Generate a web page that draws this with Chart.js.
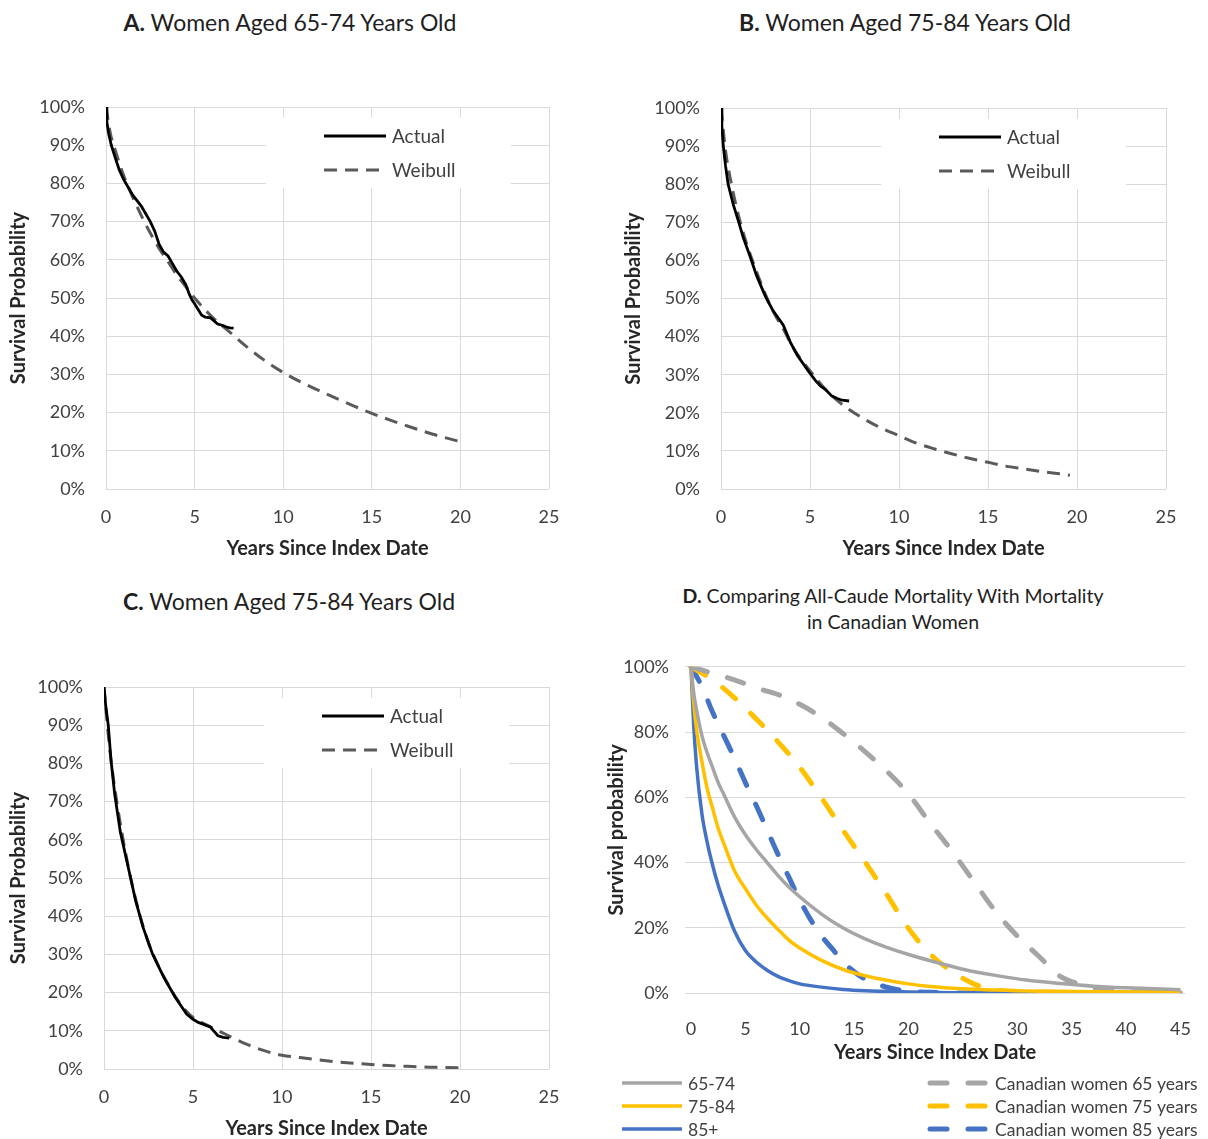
<!DOCTYPE html>
<html>
<head>
<meta charset="utf-8">
<script src="https://cdn.jsdelivr.net/npm/chart.js@4.4.0/dist/chart.umd.min.js"></script>
<style>
  html, body { margin: 0; padding: 0; background: #fff; overflow: hidden; }
  body { position: relative; width: 1208px; height: 1139px; font-family: Lato, sans-serif; }
  canvas { position: absolute; }
  .title { position: absolute; color: #1f1f1f; font-size: 23px; line-height: 26px; text-align: center; white-space: nowrap; transform: translateX(-50%); }
  .title.small { font-size: 19.5px; }
</style>
</head>
<body>
<div class="title" style="left:290px; top:9px"><b>A.</b> Women Aged 65-74 Years Old</div>
<div class="title" style="left:905px; top:9px"><b>B.</b> Women Aged 75-84 Years Old</div>
<div class="title" style="left:289px; top:588px"><b>C.</b> Women Aged 75-84 Years Old</div>
<div class="title small" style="left:893px; top:583px"><b>D.</b> Comparing All-Caude Mortality With Mortality<br>in Canadian Women</div>

<canvas id="chartA" width="600" height="520" style="left:0; top:60px"></canvas>
<canvas id="chartB" width="593" height="520" style="left:615px; top:60px"></canvas>
<canvas id="chartC" width="600" height="520" style="left:0; top:640px"></canvas>
<canvas id="chartD" width="608" height="499" style="left:600px; top:640px"></canvas>

<script>
// Panel A: women 65-74 (years since index date, survival %)
const aActualYears = [0, 0.05, 0.15, 0.3, 0.5, 0.75, 1, 1.25, 1.5, 1.75, 2, 2.25, 2.5, 2.75, 3, 3.25, 3.5, 3.75, 4, 4.25, 4.5, 4.7, 4.85, 5, 5.2, 5.4, 5.6, 5.9, 6.1, 6.3, 6.6, 6.8, 7, 7.2];
const aActual = [100, 96, 93, 90, 87, 83.5, 81, 79, 77, 75.5, 74, 72, 70, 67.5, 64, 62, 61, 59, 57, 55.5, 53.5, 51, 49.5, 48.5, 47, 45.5, 45, 44.8, 44, 43.2, 42.8, 42.4, 42.2, 42.1];
const aWeibullYears = [0, 0.25, 0.5, 1, 1.5, 2, 2.5, 3, 3.5, 4, 4.5, 5, 6, 7, 8, 9, 10, 11, 12, 13, 14, 15, 16, 17, 18, 19, 20];
const aWeibull = [100, 93, 89, 82, 76.5, 71.5, 67, 63, 59.5, 56, 53, 50, 45, 41, 37, 33.5, 30.5, 28, 25.8, 23.7, 21.7, 19.8, 18.1, 16.5, 15, 13.6, 12.4];

// Panel B: women 75-84
const bActualYears = [0, 0.05, 0.13, 0.25, 0.4, 0.7, 1, 1.25, 1.6, 2, 2.5, 2.9, 3.2, 3.5, 3.9, 4.3, 4.6, 4.9, 5.3, 5.6, 5.9, 6.2, 6.5, 6.8, 7.2];
const bActual = [100, 95, 90, 85, 80, 74.5, 70, 66, 61.5, 56, 50.5, 47, 45, 43, 38.5, 35, 33, 31, 28.5, 27, 26, 24.5, 23.8, 23.3, 23.1];
const bWeibullYears = [0, 0.25, 0.5, 1, 1.5, 2, 2.5, 3, 3.5, 4, 4.5, 5, 6, 7, 8, 9, 10, 11, 12, 13, 14, 15, 16, 17, 18, 19, 19.6];
const bWeibull = [100, 89, 82, 71.5, 63.5, 57, 51, 46, 42, 37.5, 34, 31, 25.5, 21.5, 18.5, 16, 14, 12, 10.5, 9.2, 8, 7, 6, 5.3, 4.6, 4, 3.6];

// Panel C
const cActualYears = [0, 0.1, 0.24, 0.39, 0.6, 0.92, 1.35, 1.78, 2.2, 2.72, 3.36, 4, 4.64, 5, 5.3, 5.97, 6.2, 6.4, 6.7, 7.04];
const cActual = [100, 95, 90, 81, 72, 62, 53, 44, 37, 30.2, 24, 18.8, 14.4, 13, 12.2, 11, 9.8, 8.7, 8.3, 8.1];
const cWeibullYears = [0, 0.25, 0.5, 1, 1.5, 2, 2.5, 3, 3.5, 4, 4.5, 5, 6, 7, 8, 9, 10, 11, 12, 13, 14, 15, 16, 17, 18, 19, 20];
const cWeibull = [100, 87, 77, 62, 50, 40.5, 33, 27.5, 23, 19, 15.8, 13.5, 11, 8.7, 6.5, 4.8, 3.6, 3, 2.4, 1.9, 1.5, 1.2, 0.9, 0.7, 0.5, 0.4, 0.3];

// Panel D: fitted curves by age group vs. Canadian women life tables
const dYears = [0, 0.25, 0.5, 1, 1.5, 2, 2.5, 3, 4, 5, 6, 7, 8, 9, 10, 12, 14, 16, 18, 20, 22, 25, 28, 31, 34, 37, 40, 45];
const d6574 = [100, 92, 87, 79, 73.5, 69, 64.5, 61, 54, 48.5, 44, 40, 36, 32.5, 29.5, 24.2, 19.9, 16.6, 14, 11.8, 9.9, 7.3, 5.4, 3.9, 2.9, 2.1, 1.6, 1];
const d7584 = [100, 89, 81, 71, 62.5, 56.5, 50.5, 46, 37.5, 32, 27, 23, 19.5, 16.2, 13.8, 10, 7.2, 5.3, 3.9, 2.8, 2, 1.3, 0.9, 0.6, 0.5, 0.4, 0.3, 0.3];
const d85 = [100, 82, 70, 55, 46, 39, 33, 28, 19, 13, 9.5, 7, 5.1, 3.8, 2.8, 1.8, 1.1, 0.7, 0.5, 0.3, 0.2, 0.1, 0.1, 0, 0, 0, 0, 0];

const can65Years = [0, 2, 4, 6, 8, 10, 12, 14, 16, 18, 20, 22, 24, 26, 28, 30, 32, 34, 36, 38, 40, 42, 45];
const can65 = [100, 98, 96, 93.5, 91.5, 88.5, 84.5, 79.5, 74, 68, 61, 52, 43.5, 34.2, 25, 17.5, 11.2, 5, 2.5, 0.9, 0.5, 0.3, 0.1];
const can75Years = [0, 2, 4, 6, 8, 10, 12, 14, 16, 18, 20, 22, 24, 26, 28, 30, 32, 34, 36, 38, 40, 42, 45];
const can75 = [100, 96, 90.5, 84, 77, 69.2, 59.8, 49.8, 40.2, 30.2, 19.8, 11.9, 6.6, 2.8, 0.9, 0.5, 0.3, 0.2, 0.1, 0.1, 0.1, 0, 0];
const can85Years = [0, 1, 2, 3, 4, 5, 6, 7, 8, 9, 10, 11, 12, 13, 14, 15, 16, 17, 18, 19, 20, 22, 25, 30, 35, 40, 45];
const can85 = [100, 94, 86, 79, 72, 64.5, 57.5, 50, 42.5, 35.5, 28.5, 22.5, 17.5, 13.5, 9.5, 6.5, 4.3, 2.8, 1.8, 1, 0.5, 0.2, 0, 0, 0, 0, 0];

const FONT = 'Lato';
const TICK_COLOR = '#404040';
const TITLE_COLOR = '#262626';
const GRID_COLOR = '#d9d9d9';

function points(xs, ys) {
    return xs.map((x, i) => ({ x: x, y: ys[i] }));
}

// Legend drawn in a white box inside the plot area (panels A-C)
const boxLegend = {
    id: 'boxLegend',
    beforeDatasetsDraw(chart, args, opts) {
        if (!opts.width) return;
        const area = chart.chartArea;
        chart.ctx.save();
        chart.ctx.fillStyle = '#fff';
        chart.ctx.fillRect(area.left + opts.left, area.top + opts.top, opts.width, opts.height);
        chart.ctx.restore();
    },
    afterDatasetsDraw(chart, args, opts) {
        if (!opts.width) return;
        const ctx = chart.ctx, area = chart.chartArea;
        const x0 = area.left + opts.left, y0 = area.top + opts.top;
        ctx.save();
        chart.data.datasets.forEach((ds, i) => {
            const y = y0 + opts.rowTop + i * opts.rowGap;
            ctx.beginPath();
            ctx.strokeStyle = ds.borderColor;
            ctx.lineWidth = ds.borderWidth;
            ctx.setLineDash(ds.borderDash || []);
            ctx.moveTo(x0 + opts.lineStart, y);
            ctx.lineTo(x0 + opts.lineStart + opts.lineLength, y);
            ctx.stroke();
            ctx.setLineDash([]);
            ctx.fillStyle = TICK_COLOR;
            ctx.font = '19px ' + FONT;
            ctx.textBaseline = 'middle';
            ctx.fillText(ds.label, x0 + opts.textStart, y + 1);
        });
        ctx.restore();
    }
};

// Two-column legend under the comparison chart (panel D)
const columnLegend = {
    id: 'columnLegend',
    afterDraw(chart, args, opts) {
        if (!opts.rows) return;
        const ctx = chart.ctx;
        ctx.save();
        chart.data.datasets.forEach((ds, i) => {
            const col = opts.cols[Math.floor(i / opts.rows.length)];
            const y = opts.rows[i % opts.rows.length];
            ctx.beginPath();
            ctx.strokeStyle = ds.borderColor;
            ctx.lineWidth = ds.borderWidth;
            ctx.lineCap = ds.borderCapStyle || 'butt';
            ctx.setLineDash(ds.borderDash || []);
            ctx.moveTo(col.line[0], y);
            ctx.lineTo(col.line[1], y);
            ctx.stroke();
            ctx.setLineDash([]);
            ctx.fillStyle = TICK_COLOR;
            ctx.font = '17.5px ' + FONT;
            ctx.textBaseline = 'middle';
            ctx.fillText(ds.label, col.text, y + 1);
        });
        ctx.restore();
    }
};

Chart.register(boxLegend, columnLegend);

function survivalChart(id, actualYears, actual, weibullYears, weibull, yWidth, padTop, padRight) {
    const ctx = document.getElementById(id).getContext('2d');
    return new Chart(ctx, {
        type: 'line',
        data: {
            datasets: [
                {
                    label: 'Actual',
                    data: points(actualYears, actual),
                    borderColor: '#000000',
                    borderWidth: 2.8,
                    pointRadius: 0,
                    tension: 0
                },
                {
                    label: 'Weibull',
                    data: points(weibullYears, weibull),
                    borderColor: '#5a5a5a',
                    borderWidth: 3,
                    borderDash: [13, 8],
                    pointRadius: 0,
                    cubicInterpolationMode: 'monotone'
                }
            ]
        },
        options: {
            responsive: false,
            animation: false,
            devicePixelRatio: 1,
            layout: { padding: { top: padTop, right: padRight, bottom: 0, left: 0 } },
            plugins: {
                legend: { display: false },
                tooltip: { enabled: false },
                boxLegend: { left: 160, top: 11, width: 245, height: 70, rowTop: 18, rowGap: 34, lineStart: 58, lineLength: 62, textStart: 126 }
            },
            scales: {
                x: {
                    type: 'linear',
                    min: 0,
                    max: 25,
                    ticks: { stepSize: 5, padding: 17, color: TICK_COLOR, font: { family: FONT, size: 18 } },
                    grid: { color: GRID_COLOR, drawTicks: false },
                    border: { display: false },
                    title: { display: true, text: 'Years Since Index Date', color: TITLE_COLOR, font: { family: FONT, size: 20, weight: 'bold' }, padding: { top: 0, bottom: 19 } },
                    afterFit: s => { s.height = 91; }
                },
                y: {
                    min: 0,
                    max: 100,
                    ticks: { stepSize: 10, padding: 21, color: TICK_COLOR, font: { family: FONT, size: 18 }, callback: v => v + '%' },
                    grid: { color: GRID_COLOR, drawTicks: false },
                    border: { display: false },
                    title: { display: true, text: 'Survival Probability', color: TITLE_COLOR, font: { family: FONT, size: 20, weight: 'bold' }, padding: { top: 7, bottom: 0 } },
                    afterFit: s => { s.width = yWidth; }
                }
            }
        }
    });
}

survivalChart('chartA', aActualYears, aActual, aWeibullYears, aWeibull, 106, 47, 51);
survivalChart('chartB', bActualYears, bActual, bWeibullYears, bWeibull, 106, 48, 42);
survivalChart('chartC', cActualYears, cActual, cWeibullYears, cWeibull, 104, 47, 51);

// Panel D
const solid = (label, xs, ys, color) => ({
    label: label,
    data: points(xs, ys),
    borderColor: color,
    borderWidth: 3.5,
    pointRadius: 0,
    cubicInterpolationMode: 'monotone'
});
const dashed = (label, xs, ys, color) => ({
    label: label,
    data: points(xs, ys),
    borderColor: color,
    borderWidth: 5,
    borderDash: [17, 21],
    borderCapStyle: 'round',
    pointRadius: 0,
    cubicInterpolationMode: 'monotone'
});

new Chart(document.getElementById('chartD').getContext('2d'), {
    type: 'line',
    data: {
        datasets: [
            solid('65-74', dYears, d6574, '#A5A5A5'),
            solid('75-84', dYears, d7584, '#FFC000'),
            solid('85+', dYears, d85, '#4472C4'),
            dashed('Canadian women 65 years', can65Years, can65, '#A5A5A5'),
            dashed('Canadian women 75 years', can75Years, can75, '#FFC000'),
            dashed('Canadian women 85 years', can85Years, can85, '#4472C4')
        ]
    },
    options: {
        responsive: false,
        animation: false,
        devicePixelRatio: 1,
        layout: { padding: { top: 24, right: 16, bottom: 73, left: 0 } },
        plugins: {
            legend: { display: false },
            tooltip: { enabled: false },
            columnLegend: {
                rows: [443, 466, 489],
                cols: [{ line: [22, 82], text: 88 }, { line: [330, 389], text: 395 }]
            }
        },
        scales: {
            x: {
                type: 'linear',
                min: -0.55,
                max: 45.45,
                afterBuildTicks: s => { s.ticks = [0, 5, 10, 15, 20, 25, 30, 35, 40, 45].map(v => ({ value: v })); },
                ticks: { padding: 17, color: TICK_COLOR, font: { family: FONT, size: 18 } },
                grid: { display: false },
                border: { display: false },
                title: { display: true, text: 'Years Since Index Date', color: TITLE_COLOR, font: { family: FONT, size: 20, weight: 'bold' }, padding: { top: 0, bottom: 1 } },
                afterFit: s => { s.height = 73; }
            },
            y: {
                min: 0,
                max: 100,
                ticks: { stepSize: 20, padding: 16, color: TICK_COLOR, font: { family: FONT, size: 18 }, callback: v => v + '%' },
                grid: { color: GRID_COLOR, drawTicks: false },
                border: { display: false },
                title: { display: true, text: 'Survival probability', color: TITLE_COLOR, font: { family: FONT, size: 20, weight: 'bold' }, padding: { top: 5, bottom: 0 } },
                afterFit: s => { s.width = 85; }
            }
        }
    }
});
</script>
</body>
</html>
